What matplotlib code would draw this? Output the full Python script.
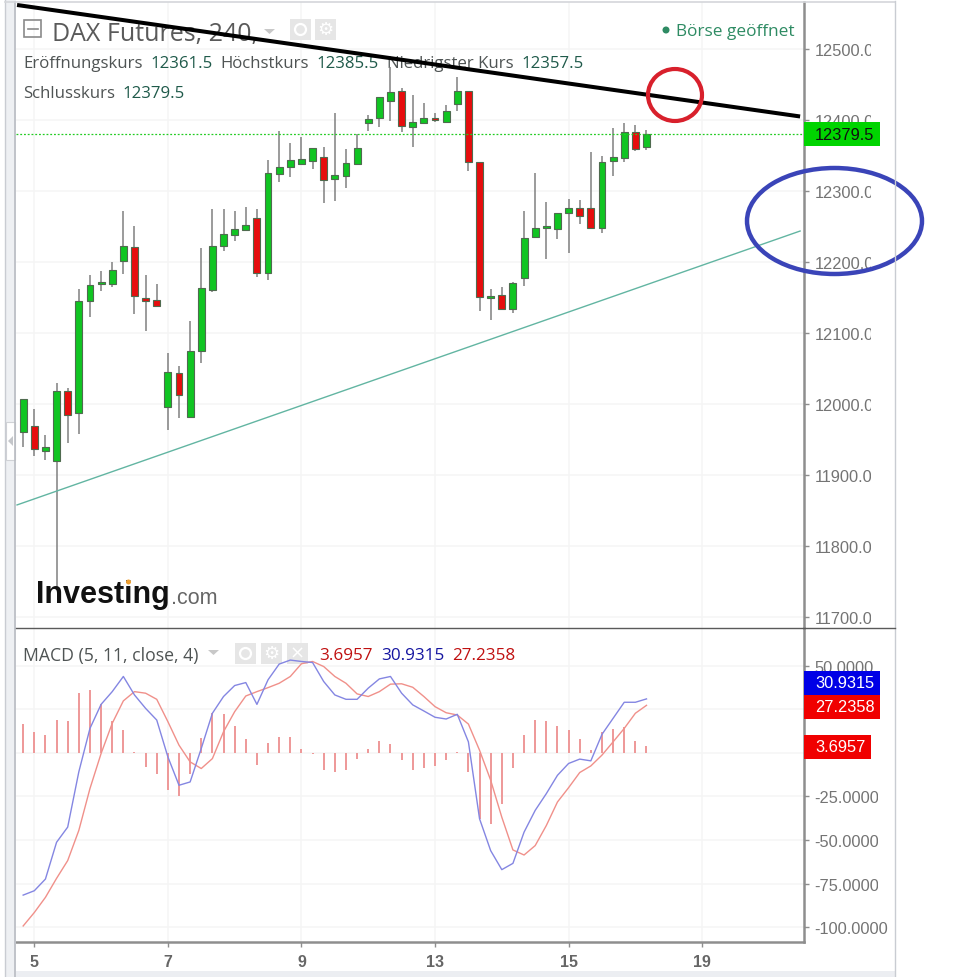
import matplotlib
matplotlib.use('Agg')
import matplotlib.pyplot as plt
from matplotlib.patches import Ellipse, Rectangle, Polygon
import numpy as np

# candles -----------------------------------------------------------------
opens = [11959.5, 11969, 11933.5, 11919, 12017.5, 11987, 12145, 12168, 12168, 12200.5,
         12220, 12148.5, 12146.5, 11995, 12042.5, 11980.5, 12073.5, 12160, 12221.5, 12238,
         12244.5, 12261, 12183.5, 12323, 12333.5, 12338, 12342, 12347.5, 12316.5, 12321,
         12338, 12395, 12401.5, 12426.5, 12440.5, 12389, 12395, 12402.5, 12397, 12422.5,
         12440, 12340.5, 12149, 12152.5, 12133, 12177, 12234, 12247, 12246.5, 12268,
         12275.5, 12275.5, 12247, 12342, 12346.5, 12382, 12361.5]
highs = [12006.5, 11992.5, 11956, 12028.5, 12022, 12161.5, 12181, 12186.5, 12200, 12271.5,
         12250.5, 12181, 12168, 12071, 12053.5, 12116.5, 12218.5, 12274, 12274, 12271.5,
         12276.5, 12274, 12343.5, 12383.5, 12367, 12376, 12360, 12361, 12409, 12358.5,
         12379.5, 12406.5, 12431.5, 12474, 12444, 12434.5, 12423.5, 12409, 12421, 12459.5,
         12440, 12340.5, 12161.5, 12164, 12171.5, 12271, 12324.5, 12284.5, 12269, 12288,
         12286.5, 12354, 12349, 12387.5, 12394.5, 12392.5, 12385.5]
lows = [11939.5, 11926.5, 11921, 11739, 11944, 11957, 12122, 12159, 12164, 12182.5,
        12126, 12102.5, 12135.5, 11963, 11980, 11980.5, 12057, 12157.5, 12214.5, 12229.5,
        12243.5, 12178, 12174.5, 12311.5, 12318.5, 12338, 12330.5, 12282.5, 12285, 12303.5,
        12338, 12384.5, 12390, 12398.5, 12382, 12361, 12395, 12397, 12397, 12411.5,
        12327, 12130, 12117.5, 12133, 12127.5, 12166, 12234, 12203.5, 12231.5, 12212,
        12253, 12247, 12240, 12321, 12340, 12355.5, 12357.5]
closes = [12006.5, 11936, 11939.5, 12017.5, 11984.5, 12145, 12167.5, 12171, 12188.5, 12222.5,
          12152, 12145, 12137, 12045, 12012, 12074.5, 12163, 12222.5, 12239, 12246,
          12252, 12183.5, 12324.5, 12332.5, 12343, 12345, 12360, 12314.5, 12322, 12339,
          12360, 12400.5, 12431.5, 12438.5, 12390.5, 12396, 12402, 12399, 12412.5, 12440,
          12340, 12149.5, 12151, 12133, 12169.5, 12233, 12247.5, 12250, 12269, 12275.5,
          12263.5, 12247, 12340.5, 12347, 12383, 12358.5, 12379.5]

# macd --------------------------------------------------------------------
macd_line = [-81.6, -79.1, -72.4, -51.3, -42.6, -10.9, 14, 27.8, 35.1, 43.8,
             33.2, 25.5, 18.8, -2.3, -18.6, -16.7, 2.5, 22.7, 32.3, 38.6,
             40.3, 27.8, 41.9, 50.9, 53.2, 52.4, 51.8, 40.9, 33.2, 30.7,
             30.7, 37.1, 42.4, 43.8, 34.2, 27.5, 24, 20.4, 19.4, 22.1,
             6.3, -37.8, -56.1, -67, -63.4, -45.5, -33, -23.4, -12.9, -6.1,
             -3.6, -4.6, 10.6, 19.8, 29, 29, 30.9315]
signal_line = [-99.3, -91.6, -82.9, -72, -61.8, -44.5, -20.5, -0.4, 16.9, 29.8,
               35.1, 34.2, 30.7, 17.9, 4.4, -5.2, -9, -3.3, 12.1, 23.6,
               32.6, 35.1, 37.4, 39.9, 43.8, 51.1, 52.4, 49.5, 43.8, 39.9,
               33.8, 32.3, 35.1, 39.4, 39.6, 37.6, 32.3, 26.5, 23, 21.7,
               16.5, 1.5, -15.7, -36.9, -55.7, -58.6, -53.2, -41.7, -28.2, -20,
               -11.3, -7.5, -1.3, 6.3, 14, 22.7, 27.2358]
hist = [16.3, 12.1, 10.2, 18.8, 18, 34.6, 36.3, 27.8, 18.4, 12.9,
        0.3, -8.4, -11.9, -21.5, -24.8, -11.9, 8.6, 22.7, 22.3, 15.6,
        7.7, -6.7, 5.4, 9.2, 9.2, 2.3, -0.6, -9.6, -11.1, -9.8,
        -3.6, 2.3, 6.7, 5.2, -4.2, -9.6, -8.6, -7.3, -4.2, 0.3,
        -11.1, -38.2, -40.7, -29.2, -8.6, 10.2, 18.8, 18, 15.6, 12.9,
        7.9, 1.5, 11.7, 13.6, 15, 6.9, 3.6957]

# drawn lines and axis labels ----------------------------------------------
trend_x = [-0.55, 69.8]
black_trend = [12561.3, 12404.3]
teal_trend = [11857.3, 12243]
last_price = 12379.5
price_ticks = [11700, 11800, 11900, 12000, 12100, 12200, 12300, 12400, 12500]
macd_ticks = [-100, -75, -50, -25, 0, 25, 50]
# 0 and 25 sit fully behind the value tags in the picture
macd_tick_labels = ['-100.0000', '-75.0000', '-50.0000', '-25.0000', '', '', '50.0000']
day_pos = [1, 13, 25, 37, 49, 61]
day_labels = ['5', '7', '9', '13', '15', '19']

W, H = 962, 978
UI = ['Open Sans', 'DejaVu Sans']
ARIAL = 'Liberation Sans'
GRID = '#f5f5f5'
AXIS = '#8e8e8e'
TICK = '#747474'


def box(x0, y0, x1, y1):
    return [x0 / W, 1 - y1 / H, (x1 - x0) / W, (y1 - y0) / H]


fig = plt.figure(figsize=(W / 100, H / 100), dpi=100, facecolor='white')
ax = fig.add_axes(box(16, 3, 804, 629))
ax2 = fig.add_axes(box(16, 629, 804, 943), sharex=ax)
ax.patch.set_visible(False)
ax2.patch.set_visible(False)

x = np.arange(len(opens))
ax.set_xlim(-0.644, 70.15)
ax.set_ylim(11684, 12565.5)
ax2.set_ylim(-108.5, 71.6)

for a in (ax, ax2):
    a.yaxis.tick_right()
    for s in ('top', 'left', 'bottom'):
        a.spines[s].set_visible(False)
    a.spines['right'].set_color(AXIS)
    a.spines['right'].set_linewidth(1.8)
    a.tick_params(axis='y', length=3.5, width=1, color=AXIS, labelcolor=TICK, pad=4)
    a.set_xticks(day_pos)

ax.set_yticks(price_ticks)
ax.set_yticklabels([f'{p}.0' for p in price_ticks], fontfamily=ARIAL, fontsize=11.8)
ax.tick_params(axis='x', length=0, labelbottom=False)

ax2.set_yticks(macd_ticks)
ax2.set_yticklabels(macd_tick_labels, fontfamily=ARIAL, fontsize=11.8)
ax2.set_xticklabels(day_labels, fontfamily=ARIAL, fontsize=11.5, fontweight='bold')
ax2.spines['bottom'].set_visible(True)
ax2.spines['bottom'].set_color(AXIS)
ax2.spines['bottom'].set_linewidth(1.8)
ax2.tick_params(axis='x', length=3.5, width=1, color=AXIS, labelcolor='#666666', pad=5)

# grid lives on its own axes under the text layer ------------------------------
for a, rect in ((ax, box(16, 3, 804, 629)), (ax2, box(16, 629, 804, 943))):
    g = fig.add_axes(rect, zorder=-2)
    g.set_xlim(a.get_xlim())
    g.set_ylim(a.get_ylim())
    g.set_xticks(day_pos)
    g.set_yticks(a.get_yticks())
    g.grid(color=GRID, linewidth=1.1)
    g.tick_params(left=False, bottom=False, labelleft=False, labelbottom=False)
    for s in g.spines.values():
        s.set_visible(False)

# velas --------------------------------------------------------------------
up = np.array(closes) >= np.array(opens)
colors = ['#10c522' if u else '#e60d0d' for u in up]
ax.vlines(x, lows, highs, color='#808080', linewidth=1.1, zorder=2)
ax.bar(x, np.array(closes) - np.array(opens), bottom=opens, width=0.62, color=colors,
       edgecolor='#4f6b4f', linewidth=0.8, zorder=3)
ax.axhline(last_price, color='#22cc22', linewidth=0.9, linestyle=(0, (1.5, 1.5)), zorder=4)
ax.plot(trend_x, teal_trend, color='#62b5a2', linewidth=1.0, zorder=5)
ax.plot(trend_x, black_trend, color='black', linewidth=2.9, zorder=9, solid_capstyle='butt')

# macd ---------------------------------------------------------------------
ax2.bar(x, hist, width=0.18, color='#ee9a9a', zorder=2)
ax2.plot(x, signal_line, color='#f0908a', linewidth=1.0, zorder=3)
ax2.plot(x, macd_line, color='#8486e2', linewidth=1.0, zorder=4)

# text layer sits under the candles so the trend line runs over the legend ---
back = fig.add_axes([0, 0, 1, 1], zorder=-1)
back.set_xlim(0, W)
back.set_ylim(H, 0)
back.axis('off')

# overlay in pixels for the widget chrome and hand-drawn marks ----------------
ov = fig.add_axes([0, 0, 1, 1], zorder=10)
ov.set_xlim(0, W)
ov.set_ylim(H, 0)
ov.axis('off')
ov.patch.set_visible(False)

# frame
ov.add_patch(Rectangle((5, 0), 11, H, facecolor='#eef0f3', edgecolor='none'))
ov.plot([5.5, 5.5], [0, H], color='#c9ccd2', lw=1)
ov.plot([15.5, 15.5], [3, H], color='#b9bcc2', lw=1.2)
ov.plot([5, 895], [2.5, 2.5], color='#d4d6da', lw=1.2)
ov.plot([895, 895], [2, H], color='#c9ccd2', lw=1)
ov.add_patch(Rectangle((6, 423), 9, 38, facecolor='white', edgecolor='#d0d2d6', lw=0.8))
ov.add_patch(Polygon([[8, 442], [13, 437], [13, 447]], facecolor='#c4c6ca'))
ov.add_patch(Rectangle((16, 972), 879, 6, facecolor='#eceef2', edgecolor='none'))
ov.plot([16, 895], [629, 629], color='#5a5a5a', lw=1)

# clipped tick labels on the price scale
ov.add_patch(Rectangle((871.5, 30), 22.5, 598, facecolor='white', edgecolor='none'))
ov.add_patch(Rectangle((878, 630), 16, 275, facecolor='white', edgecolor='none'))

# title row
back.add_patch(Rectangle((24.5, 21), 17, 17, facecolor='none', edgecolor='#8a8a8a', lw=1.2))
back.plot([28, 38], [29.5, 29.5], color='#8a8a8a', lw=1.2)
back.text(52, 34, 'DAX Futures, 240,', family=UI, fontsize=18, color='#5a5a5a', va='center')
back.add_patch(Polygon([[264, 30], [275, 30], [269.5, 35]], facecolor='#c8c8c8'))


def eye_button(px, py):
    back.add_patch(Rectangle((px, py), 21, 21, facecolor='#e6e6e6', edgecolor='none'))
    back.add_patch(Ellipse((px + 10.5, py + 10.5), 11, 11, facecolor='none', edgecolor='white', lw=1.6))


def glyph_button(px, py, glyph):
    back.add_patch(Rectangle((px, py), 21, 21, facecolor='#e6e6e6', edgecolor='none'))
    back.text(px + 10.5, py + 10, glyph, family='DejaVu Sans', fontsize=13, color='white', ha='center', va='center')


eye_button(290, 20)
glyph_button(315, 20, '\u2699')


def row(y, parts, size=12.1):
    # text runs at fixed x, label grey or value green
    for px, s, c in parts:
        back.text(px, y, s, family=UI, fontsize=size, color=c, va='center')


LBL = '#4f5454'
VAL = '#1f5a4a'
row(63.5, [(23, 'Eröffnungskurs', LBL), (150, '12361.5', VAL), (220, 'Höchstkurs', LBL),
           (316, '12385.5', VAL), (387, 'Niedrigster Kurs', LBL), (521, '12357.5', VAL)])
row(94.5, [(23, 'Schlusskurs', LBL), (122, '12379.5', VAL)])

back.add_patch(Ellipse((666, 31), 7, 7, facecolor='#2e8b63', edgecolor='none'))
back.text(676, 32.5, 'Börse geöffnet', family=UI, fontsize=12.4, color='#2e8b63', va='center')

# last value tags
ov.add_patch(Rectangle((804, 123), 76, 24, facecolor='#00d400', edgecolor='none'))
ov.text(815, 135, '12379.5', family=ARIAL, fontsize=11.8, color='#101010', va='center')
ov.add_patch(Rectangle((804, 672), 76, 24, facecolor='#0000e6', edgecolor='none'))
ov.text(815, 684, '30.9315', family=ARIAL, fontsize=11.8, color='white', va='center')
ov.add_patch(Rectangle((804, 696), 76, 24, facecolor='#f00000', edgecolor='none'))
ov.text(815, 708, '27.2358', family=ARIAL, fontsize=11.8, color='white', va='center')
ov.add_patch(Rectangle((804, 736), 67, 24, facecolor='#f00000', edgecolor='none'))
ov.text(815, 748, '3.6957', family=ARIAL, fontsize=11.8, color='white', va='center')

# macd legend
row(655.5, [(23, 'MACD (5, 11, close, 4)', LBL)], size=12.7)
row(655.5, [(319, '3.6957', '#c01010'), (381, '30.9315', '#1414a0'), (452, '27.2358', '#c01010')], size=12.3)
back.add_patch(Polygon([[208, 651], [219, 651], [213.5, 656]], facecolor='#c8c8c8'))
eye_button(235, 644)
glyph_button(261, 644, '\u2699')
glyph_button(287, 644, '\u00d7')

# logo
ov.text(36, 595, 'Investing', family=ARIAL, fontsize=22, fontweight='bold', color='#111111', va='center')
ov.text(171, 598, '.com', family=ARIAL, fontsize=15.5, color='#666666', va='center')
ov.add_patch(Ellipse((128.5, 583), 5, 5, facecolor='#f0a030', edgecolor='none', zorder=5))

# hand-drawn circles
ov.add_patch(Ellipse((675, 96), 54, 52, facecolor='none', edgecolor='#d8202c', lw=3))
ov.add_patch(Ellipse((834.5, 222), 175, 106, facecolor='none', edgecolor='#3a44b8', lw=3.2))

fig.savefig('out.png', dpi=100)
